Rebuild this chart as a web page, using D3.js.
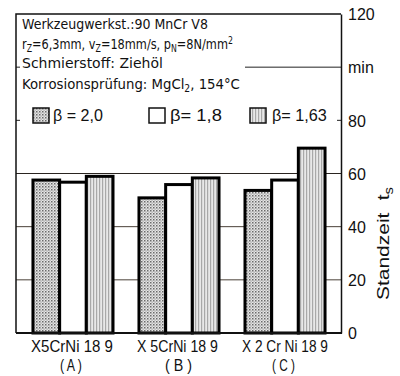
<!DOCTYPE html>
<html><head><meta charset="utf-8">
<script src="https://cdn.jsdelivr.net/npm/d3@7"></script>
<style>
body{margin:0;background:#fff;}
svg{display:block;}
.narrow{font-family:"Liberation Sans Narrow","DejaVu Sans Condensed","Arial Narrow",sans-serif;}
.reg{font-family:"Liberation Sans",Arial,sans-serif;}
</style></head>
<body><svg id="c" width="400" height="376"></svg>
<script>
// ---- data ----
const categories = ["A", "B", "C"];
const categoryLine1 = ["X5CrNi 18 9", "X 5CrNi 18 9", "X 2 Cr Ni 18 9"];
const categoryLine2 = ["( A )", "( B )", "( C )"];
const seriesNames = ["β = 2,0", "β= 1,8", "β= 1,63"];
const beta20 = [58.1, 51.4, 54.2];
const beta18 = [57.3, 56.4, 58.1];
const beta163 = [59.5, 58.9, 70.1];
const yTicks = [0, 20, 40, 60, 80, 100, 120];
const yTickLabels = ["0", "20", "40", "60", "80", "min", "120"];
const infoLines = ["Werkzeugwerkst.:90 MnCr V8", "rZ=6,3mm, vZ=18mm/s, pN=8N/mm2", "Schmierstoff: Ziehöl", "Korrosionsprüfung: MgCl2, 154°C"];

const series = [beta20, beta18, beta163];
const svg = d3.select("#c");

// patterns
const defs = svg.append("defs");
const pDot = defs.append("pattern").attr("id","pDot").attr("width",3).attr("height",3).attr("patternUnits","userSpaceOnUse");
pDot.append("rect").attr("width",3).attr("height",3).attr("fill","#e6e6e6");
pDot.append("rect").attr("x",0).attr("y",0).attr("width",1.5).attr("height",1.5).attr("fill","#6a6a6a");
pDot.append("rect").attr("x",1.5).attr("y",1.5).attr("width",1.2).attr("height",1.2).attr("fill","#9a9a9a");
const pStr = defs.append("pattern").attr("id","pStr").attr("width",3).attr("height",4).attr("patternUnits","userSpaceOnUse");
pStr.append("rect").attr("width",3).attr("height",4).attr("fill","#e8e8e8");
pStr.append("rect").attr("x",0).attr("width",1.2).attr("height",4).attr("fill","#a8a8a8");
const fills = ["url(#pDot)", "#fff", "url(#pStr)"];

// scales
const pLeft = 16, pRight = 341, pTop = 14, pBottom = 333;
const y = d3.scaleLinear().domain([0,120]).range([pBottom, pTop]);
const x0 = d3.scaleBand().domain(categories).range([18, 337]).paddingInner(0.245).paddingOuter(0.127);
const x1 = d3.scaleBand().domain(d3.range(series.length)).range([0, x0.bandwidth()]).padding(0);

// grid lines
[20,40].forEach(v=>{
  svg.append("line").attr("x1",pLeft).attr("x2",pRight).attr("y1",y(v)).attr("y2",y(v))
    .attr("stroke","#4a4038").attr("stroke-width",1);
});
svg.append("line").attr("x1",pLeft).attr("x2",pRight).attr("y1",y(60)).attr("y2",y(60))
  .attr("stroke","#2a2420").attr("stroke-width",1);
// min line and short ticks at 80/100
svg.append("line").attr("x1",245).attr("x2",pRight).attr("y1",y(100)).attr("y2",y(100)).attr("stroke","#222").attr("stroke-width",1);
[80,100].forEach(v=>{
  svg.append("line").attr("x1",pLeft).attr("x2",pLeft+4).attr("y1",y(v)).attr("y2",y(v)).attr("stroke","#222");
});
svg.append("line").attr("x1",pRight-4).attr("x2",pRight).attr("y1",y(80)).attr("y2",y(80)).attr("stroke","#222");

// bars
const g = svg.append("g");
categories.forEach((c,ci)=>{
  series.forEach((s,si)=>{
    g.append("rect")
      .attr("x", x0(c)+x1(si)+1.5)
      .attr("width", x1.bandwidth()-0.001)
      .attr("y", y(s[ci])+1.5)
      .attr("height", y(0)-y(s[ci])-1.5)
      .attr("fill", fills[si]).attr("stroke","#000").attr("stroke-width",3);
  });
});

// frame
svg.append("path").attr("d",`M${pLeft},${pBottom}V${pTop}H${pRight}`).attr("fill","none").attr("stroke","#111").attr("stroke-width",1.5);
svg.append("line").attr("x1",pLeft).attr("x2",pRight+1).attr("y1",pBottom).attr("y2",pBottom).attr("stroke","#111").attr("stroke-width",2);

// right axis
const yAxis = d3.axisRight(y).tickValues(yTicks).tickSize(0).tickPadding(7)
  .tickFormat((d,i)=>yTickLabels[i]);
const ax = svg.append("g").attr("transform",`translate(${pRight},0)`).call(yAxis);
ax.select(".domain").attr("stroke","#111").attr("stroke-width",1.5);
ax.selectAll("text").attr("class","reg").attr("font-size",16).attr("fill","#111").attr("dy","0.36em");

// axis title
const tt = svg.append("text").attr("class","reg").attr("font-size",17).attr("fill","#111");
tt.append("tspan").text("Standzeit");
tt.append("tspan").attr("dx",10).text("t");
tt.append("tspan").attr("font-size",12).attr("dy",4).text("s");
{
  const w = tt.node().getBBox().width;
  tt.attr("transform",`translate(389,300) rotate(-90) scale(${113/w},1)`);
}

// helper to fit text horizontally
function fit(sel, x0p, x1p, yb){
  const w = sel.node().getBBox().width;
  sel.attr("transform",`translate(${x0p},${yb}) scale(${(x1p-x0p)/w},1)`);
}

// info text
const infoY = [29, 49, 68, 89];
const infoRight = [208, 233, 163, 240];
function addSubs(t, parts){
  parts.forEach(p=>{
    const ts = t.append("tspan").text(p[0]);
    if(p[1]==="sub") ts.attr("font-size",10).attr("dy",3);
    else if(p[1]==="sup") ts.attr("font-size",10).attr("dy",-5);
    else if(p[1]==="back") ts.attr("dy",-3);
  });
}
const infoParts = [
  [[infoLines[0]]],
  [["r"],["Z","sub"],["=6,3mm, v","back"],["Z","sub"],["=18mm/s, p","back"],["N","sub"],["=8N/mm","back"],["2","sup"]],
  [[infoLines[2]]],
  [["Korrosionsprüfung: MgCl"],["2","sub"],[", 154°C","back"]]
];
infoParts.forEach((parts,i)=>{
  const t = svg.append("text").attr("class","narrow").attr("font-size",14.5).attr("fill","#111");
  addSubs(t, parts);
  fit(t, 22, infoRight[i], infoY[i]);
});

// legend
const legX = [32, 148, 249];
const legTextX = [[53,103],[170,222],[272,327]];
series.forEach((s,i)=>{
  svg.append("rect").attr("x",legX[i]+1).attr("y",108).attr("width",16).attr("height",15)
    .attr("fill",fills[i]).attr("stroke","#111").attr("stroke-width",1.5);
  const t = svg.append("text").attr("class","reg").attr("font-size",16).attr("fill","#111").text(seriesNames[i]);
  fit(t, legTextX[i][0], legTextX[i][1], 121);
});

// category labels
const catSpan = [[31,113],[137,218],[242,328]];
const cat2Span = [[60,82],[165,192],[272,295]];
categories.forEach((c,i)=>{
  const t1 = svg.append("text").attr("class","reg").attr("font-size",17).attr("fill","#111").text(categoryLine1[i]);
  fit(t1, catSpan[i][0], catSpan[i][1], 352);
  const t2 = svg.append("text").attr("class","reg").attr("font-size",17).attr("fill","#111").text(categoryLine2[i]);
  fit(t2, cat2Span[i][0], cat2Span[i][1], 371);
});
</script></body></html>
